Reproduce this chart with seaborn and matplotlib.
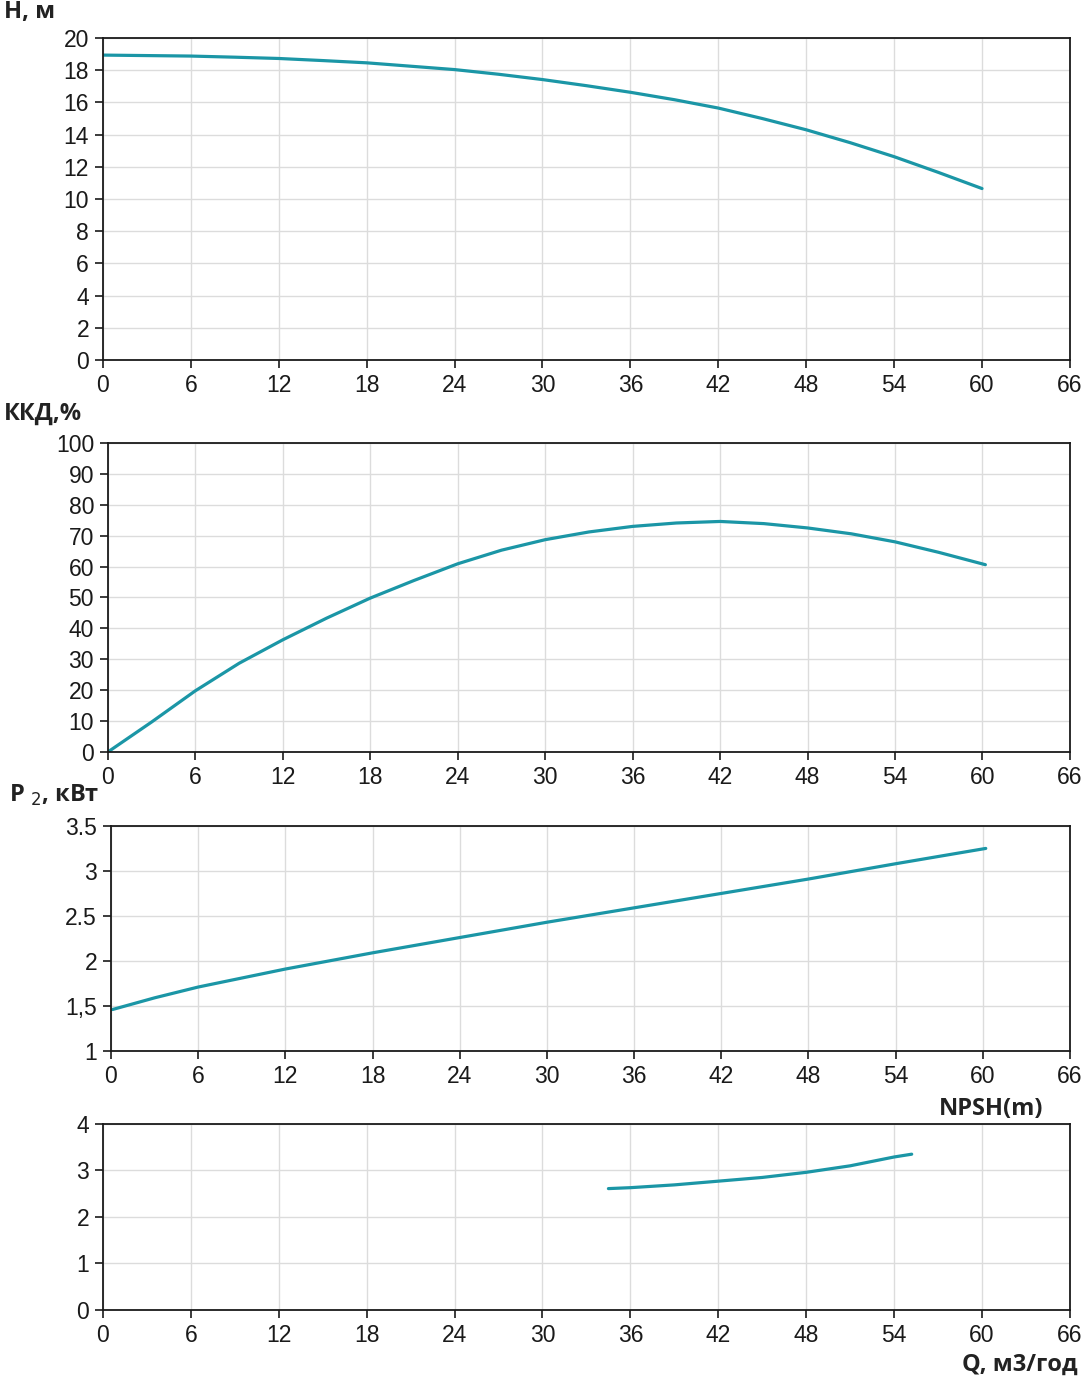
import matplotlib
matplotlib.use("Agg")
import matplotlib.pyplot as plt
import seaborn as sns
import pandas as pd

# Pump curves (Q in m3/h)
q_head = [0, 3, 6, 9, 12, 15, 18, 21, 24, 27, 30, 33, 36, 39, 42, 45, 48, 51, 54, 57, 60]
head = [18.94, 18.91, 18.88, 18.81, 18.73, 18.6, 18.46, 18.25, 18.04, 17.75, 17.42,
        17.04, 16.63, 16.17, 15.65, 15.0, 14.3, 13.5, 12.63, 11.66, 10.65]

q_eff = [0, 3, 6, 9, 12, 15, 18, 21, 24, 27, 30, 33, 36, 39, 42, 45, 48, 51, 54, 57, 60.2]
efficiency = [0, 9.7, 19.8, 28.7, 36.3, 43.3, 49.8, 55.5, 60.9, 65.3, 68.7,
              71.2, 73.0, 74.1, 74.6, 73.9, 72.5, 70.6, 68.0, 64.6, 60.6]

q_pow = [0.1, 3, 6, 9, 12, 18, 24, 30, 36, 42, 48, 54, 60.2]
power = [1.46, 1.59, 1.71, 1.81, 1.91, 2.09, 2.26, 2.43, 2.59, 2.75, 2.91, 3.08, 3.25]

q_npsh = [34.5, 36, 39, 42, 45, 48, 51, 54, 55.2]
npsh = [2.61, 2.63, 2.69, 2.77, 2.85, 2.96, 3.10, 3.29, 3.35]

x_ticks = list(range(0, 67, 6))
curve_color = "#1b96a6"

sns.set_theme(style="whitegrid")
plt.rcParams["font.family"] = ["Liberation Sans", "DejaVu Sans"]

fig = plt.figure(figsize=(10.86, 13.83), dpi=100)
fig.patch.set_facecolor("white")

panels = [
    # rect, x, y, ylim, yticks, ytick labels
    ([0.0948, 0.7397, 0.8904, 0.2328], q_head, head, (0, 20),
     list(range(0, 21, 2)), None),
    ([0.0994, 0.4563, 0.8858, 0.2234], q_eff, efficiency, (0, 100),
     list(range(0, 101, 10)), None),
    ([0.1022, 0.2401, 0.8831, 0.1627], q_pow, power, (1, 3.5),
     [1, 1.5, 2, 2.5, 3, 3.5], ["1", "1,5", "2", "2.5", "3", "3.5"]),
    ([0.0948, 0.0528, 0.8904, 0.1345], q_npsh, npsh, (0, 4),
     [0, 1, 2, 3, 4], None),
]

for rect, xs, ys, ylim, yticks, ylabels in panels:
    ax = fig.add_axes(rect)
    df = pd.DataFrame({"Q": xs, "v": ys})
    sns.lineplot(data=df, x="Q", y="v", ax=ax, color=curve_color,
                 linewidth=2.3, sort=False)
    ax.set_xlim(0, 66)
    ax.set_ylim(*ylim)
    ax.set_xticks(x_ticks)
    ax.set_yticks(yticks)
    if ylabels is not None:
        ax.set_yticklabels(ylabels)
    ax.set_xlabel("")
    ax.set_ylabel("")
    ax.grid(True, color="#dcdcdc", linewidth=1.0)
    ax.set_facecolor("white")
    for sp in ax.spines.values():
        sp.set_color("#1a1a1a")
        sp.set_linewidth(1.3)
    ax.tick_params(axis="both", which="major", labelsize=16.5, colors="#1a1a1a",
                   length=6, width=1.2, direction="out",
                   bottom=True, left=True, pad=4)

title_kw = dict(fontsize=17, fontweight="bold", color="#222222",
                family=["Open Sans", "DejaVu Sans"])
fig.text(0.004, 0.991, "Н, м", ha="left", va="center", **title_kw)
fig.text(0.004, 0.701, "ККД,%", ha="left", va="center", **title_kw)
fig.text(0.008, 0.425, r"P $_{2}$, кВт", ha="left", va="center", **title_kw)
fig.text(0.961, 0.198, "NPSH(m)", ha="right", va="center", **title_kw)
fig.text(0.992, 0.013, "Q, м3/год", ha="right", va="center", **title_kw)

fig.savefig("out.png", dpi=100, facecolor="white")
